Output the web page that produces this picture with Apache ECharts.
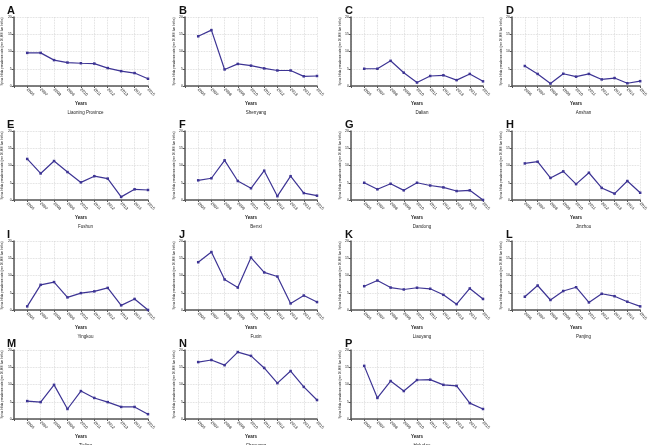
<!DOCTYPE html>
<html><head><meta charset="utf-8">
<script src="https://cdn.jsdelivr.net/npm/echarts@6/dist/echarts.min.js"></script>
<style>html,body{margin:0;padding:0;background:#fff}#c{width:650px;height:445px}</style>
</head><body><div id="c"></div>
<script>
const years = [2006, 2007, 2008, 2009, 2010, 2011, 2012, 2013, 2014, 2015];
const yTicks = [0, 5, 10, 15, 20];
const panelLetters = ['A','B','C','D','E','F','G','H','I','J','K','L','M','N','P'];
const cityNames = ['Liaoning Province','Shenyang','Dalian','Anshan','Fushun','Benxi','Dandong','Jinzhou','Yingkou','Fuxin','Liaoyang','Panjing','Tieling','Chaoyang','Huludao'];
const liaoning = [9.6, 9.6, 7.5, 6.8, 6.6, 6.5, 5.2, 4.3, 3.75, 2.1];
const shenyang = [14.4, 16.2, 4.8, 6.4, 5.9, 5.1, 4.5, 4.5, 2.8, 2.9];
const dalian = [5.0, 5.0, 7.3, 3.85, 1.0, 2.9, 3.1, 1.7, 3.5, 1.35];
const anshan = [5.8, 3.5, 0.7, 3.55, 2.7, 3.5, 1.9, 2.3, 0.8, 1.4];
const fushun = [11.9, 7.7, 11.3, 8.1, 5.1, 6.9, 6.2, 0.9, 3.1, 2.9];
const benxi = [5.7, 6.3, 11.5, 5.5, 3.4, 8.5, 1.1, 6.9, 2.0, 1.25];
const dandong = [5.0, 3.1, 4.7, 2.8, 5.0, 4.2, 3.65, 2.6, 2.8, 0];
const jinzhou = [10.6, 11.1, 6.4, 8.3, 4.6, 7.9, 3.5, 1.85, 5.5, 2.1];
const yingkou = [1.05, 7.3, 8.1, 3.65, 4.9, 5.4, 6.4, 1.35, 3.2, 0];
const fuxin = [13.85, 16.8, 8.85, 6.5, 15.2, 10.9, 9.7, 1.9, 4.2, 2.3];
const liaoyang = [6.9, 8.55, 6.5, 5.95, 6.45, 6.15, 4.4, 1.7, 6.25, 3.2];
const panjing = [3.85, 7.1, 2.9, 5.5, 6.6, 2.2, 4.7, 4.0, 2.4, 1.05];
const tieling = [5.2, 4.9, 9.9, 2.9, 8.1, 6.1, 4.9, 3.5, 3.5, 1.4];
const chaoyang = [16.5, 17.1, 15.6, 19.4, 18.3, 14.8, 10.4, 13.9, 9.3, 5.5];
const huludao = [15.4, 6.1, 11.0, 8.1, 11.3, 11.4, 9.9, 9.6, 4.6, 2.9];
const allSeries = [liaoning, shenyang, dalian, anshan, fushun, benxi, dandong, jinzhou, yingkou, fuxin, liaoyang, panjing, tieling, chaoyang, huludao];

const colLeft = [13, 185, 351, 512];
const colWidth = [135, 132, 132, 133];
const rowTop = [17, 131, 241, 350];
const plotH = 69;
const lineColor = '#3d3494';
const axisColor = '#555';
const font = 'Liberation Sans, Arial, sans-serif';

const grids = [], xAxes = [], yAxes = [], series = [], titles = [];
allSeries.forEach((vals, i) => {
  const r = Math.floor(i / 4), c = i % 4;
  grids.push({left: colLeft[c], top: rowTop[r], width: colWidth[c], height: plotH});
  xAxes.push({
    type: 'value', gridIndex: i, min: 2005, max: 2015, interval: 1,
    name: 'Years', nameLocation: 'middle', nameGap: 15,
    nameTextStyle: {fontSize: 4.5, fontFamily: font, color: '#222', fontWeight: 'bold'},
    axisLine: {show: true, lineStyle: {color: axisColor, width: 1.5}},
    axisTick: {show: true, length: 2, lineStyle: {color: axisColor, width: 1}},
    axisLabel: {fontSize: 4, fontFamily: font, color: '#222', rotate: -45, margin: 3,
      formatter: v => (v >= 2006 ? String(v) : '')},
    splitLine: {show: true, lineStyle: {color: '#d4d4d4', type: 'dotted', width: 0.8}}
  });
  yAxes.push({
    type: 'value', gridIndex: i, min: yTicks[0], max: yTicks[yTicks.length - 1], interval: 5,
    name: 'Spina bifida prevalence rate (per 10,000 live births)', nameLocation: 'middle', nameGap: 8,
    nameRotate: 90,
    nameTextStyle: {fontSize: 3, fontFamily: font, color: '#222'},
    axisLine: {show: true, lineStyle: {color: axisColor, width: 1.5}},
    axisTick: {show: true, length: 2, lineStyle: {color: axisColor, width: 1}},
    axisLabel: {fontSize: 3.5, fontFamily: font, color: '#222', margin: 2},
    splitLine: {show: true, lineStyle: {color: '#d4d4d4', type: 'dotted', width: 0.8}}
  });
  series.push({
    type: 'line', xAxisIndex: i, yAxisIndex: i,
    data: years.map((y, k) => [y, vals[k]]),
    symbol: 'rect', symbolSize: 2.5, showSymbol: true,
    lineStyle: {color: lineColor, width: 1.2},
    itemStyle: {color: lineColor},
    animation: false
  });
  titles.push({
    text: panelLetters[i], left: colLeft[c] - 11, top: rowTop[r] - 17,
    textStyle: {fontSize: 11, fontWeight: 'bold', fontFamily: font, color: '#111'}
  });
  titles.push({
    text: cityNames[i], left: colLeft[c] + colWidth[c] / 2, top: rowTop[r] + plotH + 19,
    textAlign: 'center',
    textStyle: {fontSize: 4.5, fontWeight: 'normal', fontFamily: font, color: '#222'}
  });
});

const chart = echarts.init(document.getElementById('c'), null, {renderer: 'canvas'});
chart.setOption({
  animation: false,
  backgroundColor: '#fff',
  title: titles,
  grid: grids,
  xAxis: xAxes,
  yAxis: yAxes,
  series: series
});
</script></body></html>
